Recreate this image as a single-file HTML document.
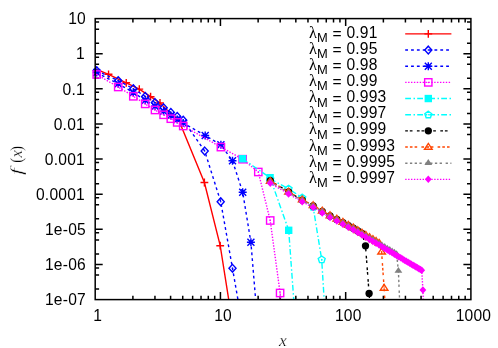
<!DOCTYPE html>
<html><head><meta charset="utf-8"><title>f(x)</title>
<style>html,body{margin:0;padding:0;background:#fff;}svg{display:block;will-change:transform;}text{font-family:"Liberation Sans",sans-serif;fill:#000;}.s{font-family:"Liberation Serif",serif;font-style:italic;}.r{font-family:"Liberation Serif",serif;font-style:normal;}</style></head><body>
<svg width="498" height="348" viewBox="0 0 498 348">
<rect x="0" y="0" width="498" height="348" fill="#fff"/>
<defs><clipPath id="c"><rect x="95.2" y="18.6" width="375.7" height="281.0"/></clipPath></defs>
<g stroke="#000" stroke-width="1.5" fill="none">
<path d="M132.90,299.6v-3.9M132.90,18.6v3.9M154.95,299.6v-3.9M154.95,18.6v3.9M170.60,299.6v-3.9M170.60,18.6v3.9M182.73,299.6v-3.9M182.73,18.6v3.9M192.65,299.6v-3.9M192.65,18.6v3.9M201.03,299.6v-3.9M201.03,18.6v3.9M208.30,299.6v-3.9M208.30,18.6v3.9M214.70,299.6v-3.9M214.70,18.6v3.9M220.43,299.6v-7.5M220.43,18.6v7.5M258.13,299.6v-3.9M258.13,18.6v3.9M280.18,299.6v-3.9M280.18,18.6v3.9M295.83,299.6v-3.9M295.83,18.6v3.9M307.97,299.6v-3.9M307.97,18.6v3.9M317.88,299.6v-3.9M317.88,18.6v3.9M326.27,299.6v-3.9M326.27,18.6v3.9M333.53,299.6v-3.9M333.53,18.6v3.9M339.94,299.6v-3.9M339.94,18.6v3.9M345.67,299.6v-7.5M345.67,18.6v7.5M383.37,299.6v-3.9M383.37,18.6v3.9M405.42,299.6v-3.9M405.42,18.6v3.9M421.06,299.6v-3.9M421.06,18.6v3.9M433.20,299.6v-3.9M433.20,18.6v3.9M443.12,299.6v-3.9M443.12,18.6v3.9M451.50,299.6v-3.9M451.50,18.6v3.9M458.76,299.6v-3.9M458.76,18.6v3.9M465.17,299.6v-3.9M465.17,18.6v3.9M95.2,43.15h3.9M470.9,43.15h-3.9M95.2,29.17h3.9M470.9,29.17h-3.9M95.2,22.00h3.9M470.9,22.00h-3.9M95.2,53.73h7.5M470.9,53.73h-7.5M95.2,78.28h3.9M470.9,78.28h-3.9M95.2,64.30h3.9M470.9,64.30h-3.9M95.2,57.13h3.9M470.9,57.13h-3.9M95.2,88.85h7.5M470.9,88.85h-7.5M95.2,113.40h3.9M470.9,113.40h-3.9M95.2,99.42h3.9M470.9,99.42h-3.9M95.2,92.25h3.9M470.9,92.25h-3.9M95.2,123.97h7.5M470.9,123.97h-7.5M95.2,148.53h3.9M470.9,148.53h-3.9M95.2,134.55h3.9M470.9,134.55h-3.9M95.2,127.38h3.9M470.9,127.38h-3.9M95.2,159.10h7.5M470.9,159.10h-7.5M95.2,183.65h3.9M470.9,183.65h-3.9M95.2,169.67h3.9M470.9,169.67h-3.9M95.2,162.50h3.9M470.9,162.50h-3.9M95.2,194.22h7.5M470.9,194.22h-7.5M95.2,218.78h3.9M470.9,218.78h-3.9M95.2,204.80h3.9M470.9,204.80h-3.9M95.2,197.63h3.9M470.9,197.63h-3.9M95.2,229.35h7.5M470.9,229.35h-7.5M95.2,253.90h3.9M470.9,253.90h-3.9M95.2,239.92h3.9M470.9,239.92h-3.9M95.2,232.75h3.9M470.9,232.75h-3.9M95.2,264.48h7.5M470.9,264.48h-7.5M95.2,289.03h3.9M470.9,289.03h-3.9M95.2,275.05h3.9M470.9,275.05h-3.9M95.2,267.88h3.9M470.9,267.88h-3.9"/>
</g>
<g font-size="15.6" text-anchor="end" letter-spacing="0.2">
<text x="85.9" y="24.05">10</text>
<text x="84.9" y="59.18">1</text>
<text x="84.9" y="94.70">0.1</text>
<text x="84.9" y="130.02">0.01</text>
<text x="84.9" y="164.55">0.001</text>
<text x="84.9" y="199.67">0.0001</text>
<text x="85.9" y="234.80">1e-05</text>
<text x="85.9" y="269.93">1e-06</text>
<text x="85.9" y="305.05">1e-07</text>
</g>
<g font-size="15.6" text-anchor="middle" letter-spacing="0.2">
<text x="97.80" y="320.6">1</text>
<text x="223.03" y="320.6">10</text>
<text x="348.27" y="320.6">100</text>
<text x="473.50" y="320.6">1000</text>
</g>
<text class="s" font-size="17.5" stroke="#fff" stroke-width="0.25" text-anchor="middle" x="283" y="345.8">x</text>
<g transform="translate(21.8,174.7) rotate(-90)">
<text class="s" font-size="16.6" stroke="#fff" stroke-width="0.3" transform="translate(-0.27,0) scale(1.5,1)">f</text>
<text class="r" font-size="17.75" stroke="#fff" stroke-width="0.2" transform="translate(11.98,0) scale(0.8,1)">(</text>
<text class="s" font-size="16.6" stroke="#fff" stroke-width="0.25" x="17.1" y="0">x</text>
<text class="r" font-size="17.75" stroke="#fff" stroke-width="0.2" transform="translate(23.95,0) scale(0.8,1)">)</text>
</g>
<path clip-path="url(#c)" d="M93.00,68.00L108.54,74.30L126.24,82.80L139.30,89.10L150.60,96.70L160.00,103.00L166.60,109.60L173.20,115.10L178.90,120.40L204.40,182.50L220.20,245.70L232.40,322.80" stroke="#ff0000" stroke-width="1.4" fill="none"/>
<path d="M104.64,74.30H112.44M108.54,70.40V78.20" stroke="#ff0000" stroke-width="1.4" fill="none"/>
<path d="M122.34,82.80H130.14M126.24,78.90V86.70" stroke="#ff0000" stroke-width="1.4" fill="none"/>
<path d="M135.40,89.10H143.20M139.30,85.20V93.00" stroke="#ff0000" stroke-width="1.4" fill="none"/>
<path d="M146.70,96.70H154.50M150.60,92.80V100.60" stroke="#ff0000" stroke-width="1.4" fill="none"/>
<path d="M156.10,103.00H163.90M160.00,99.10V106.90" stroke="#ff0000" stroke-width="1.4" fill="none"/>
<path d="M200.50,182.50H208.30M204.40,178.60V186.40" stroke="#ff0000" stroke-width="1.4" fill="none"/>
<path d="M216.30,245.70H224.10M220.20,241.80V249.60" stroke="#ff0000" stroke-width="1.4" fill="none"/>
<path clip-path="url(#c)" d="M96.70,70.70L118.20,80.60L133.30,88.70L145.20,96.40L155.00,102.50L163.60,107.80L170.80,112.40L177.20,116.40L183.20,120.20L204.70,151.00L220.70,201.70L232.50,268.30L239.40,308.00" stroke="#0000ff" stroke-width="1.4" fill="none" stroke-dasharray="2.8 3.05"/>
<path d="M96.70,66.80L100.25,70.70L96.70,74.60L93.15,70.70Z" stroke="#0000ff" stroke-width="1.4" fill="none"/><circle cx="96.70" cy="70.70" r="0.75" fill="#0000ff"/>
<path d="M118.20,76.70L121.75,80.60L118.20,84.50L114.65,80.60Z" stroke="#0000ff" stroke-width="1.4" fill="none"/><circle cx="118.20" cy="80.60" r="0.75" fill="#0000ff"/>
<path d="M133.30,84.80L136.85,88.70L133.30,92.60L129.75,88.70Z" stroke="#0000ff" stroke-width="1.4" fill="none"/><circle cx="133.30" cy="88.70" r="0.75" fill="#0000ff"/>
<path d="M145.20,92.50L148.75,96.40L145.20,100.30L141.65,96.40Z" stroke="#0000ff" stroke-width="1.4" fill="none"/><circle cx="145.20" cy="96.40" r="0.75" fill="#0000ff"/>
<path d="M155.00,98.60L158.55,102.50L155.00,106.40L151.45,102.50Z" stroke="#0000ff" stroke-width="1.4" fill="none"/><circle cx="155.00" cy="102.50" r="0.75" fill="#0000ff"/>
<path d="M163.60,103.90L167.15,107.80L163.60,111.70L160.05,107.80Z" stroke="#0000ff" stroke-width="1.4" fill="none"/><circle cx="163.60" cy="107.80" r="0.75" fill="#0000ff"/>
<path d="M170.80,108.50L174.35,112.40L170.80,116.30L167.25,112.40Z" stroke="#0000ff" stroke-width="1.4" fill="none"/><circle cx="170.80" cy="112.40" r="0.75" fill="#0000ff"/>
<path d="M177.20,112.50L180.75,116.40L177.20,120.30L173.65,116.40Z" stroke="#0000ff" stroke-width="1.4" fill="none"/><circle cx="177.20" cy="116.40" r="0.75" fill="#0000ff"/>
<path d="M183.20,116.30L186.75,120.20L183.20,124.10L179.65,120.20Z" stroke="#0000ff" stroke-width="1.4" fill="none"/><circle cx="183.20" cy="120.20" r="0.75" fill="#0000ff"/>
<path d="M204.70,147.10L208.25,151.00L204.70,154.90L201.15,151.00Z" stroke="#0000ff" stroke-width="1.4" fill="none"/><circle cx="204.70" cy="151.00" r="0.75" fill="#0000ff"/>
<path d="M220.70,197.80L224.25,201.70L220.70,205.60L217.15,201.70Z" stroke="#0000ff" stroke-width="1.4" fill="none"/><circle cx="220.70" cy="201.70" r="0.75" fill="#0000ff"/>
<path d="M232.50,264.40L236.05,268.30L232.50,272.20L228.95,268.30Z" stroke="#0000ff" stroke-width="1.4" fill="none"/><circle cx="232.50" cy="268.30" r="0.75" fill="#0000ff"/>
<path clip-path="url(#c)" d="M96.70,72.60L118.20,83.80L133.30,92.50L145.20,100.15L155.00,106.25L163.60,111.30L170.80,115.55L177.20,119.40L183.20,123.10L205.20,135.50L220.90,144.80L232.50,160.80L242.70,192.20L250.90,242.30L257.00,316.00" stroke="#0000ff" stroke-width="1.4" fill="none" stroke-dasharray="2.8 3.05"/>
<path d="M92.70,72.60H100.70M96.70,68.60V76.60M93.20,69.10L100.20,76.10M93.20,76.10L100.20,69.10" stroke="#0000ff" stroke-width="1.4" fill="none"/>
<path d="M114.20,83.80H122.20M118.20,79.80V87.80M114.70,80.30L121.70,87.30M114.70,87.30L121.70,80.30" stroke="#0000ff" stroke-width="1.4" fill="none"/>
<path d="M129.30,92.50H137.30M133.30,88.50V96.50M129.80,89.00L136.80,96.00M129.80,96.00L136.80,89.00" stroke="#0000ff" stroke-width="1.4" fill="none"/>
<path d="M141.20,100.15H149.20M145.20,96.15V104.15M141.70,96.65L148.70,103.65M141.70,103.65L148.70,96.65" stroke="#0000ff" stroke-width="1.4" fill="none"/>
<path d="M151.00,106.25H159.00M155.00,102.25V110.25M151.50,102.75L158.50,109.75M151.50,109.75L158.50,102.75" stroke="#0000ff" stroke-width="1.4" fill="none"/>
<path d="M159.60,111.30H167.60M163.60,107.30V115.30M160.10,107.80L167.10,114.80M160.10,114.80L167.10,107.80" stroke="#0000ff" stroke-width="1.4" fill="none"/>
<path d="M166.80,115.55H174.80M170.80,111.55V119.55M167.30,112.05L174.30,119.05M167.30,119.05L174.30,112.05" stroke="#0000ff" stroke-width="1.4" fill="none"/>
<path d="M173.20,119.40H181.20M177.20,115.40V123.40M173.70,115.90L180.70,122.90M173.70,122.90L180.70,115.90" stroke="#0000ff" stroke-width="1.4" fill="none"/>
<path d="M179.20,123.10H187.20M183.20,119.10V127.10M179.70,119.60L186.70,126.60M179.70,126.60L186.70,119.60" stroke="#0000ff" stroke-width="1.4" fill="none"/>
<path d="M201.20,135.50H209.20M205.20,131.50V139.50M201.70,132.00L208.70,139.00M201.70,139.00L208.70,132.00" stroke="#0000ff" stroke-width="1.4" fill="none"/>
<path d="M216.90,144.80H224.90M220.90,140.80V148.80M217.40,141.30L224.40,148.30M217.40,148.30L224.40,141.30" stroke="#0000ff" stroke-width="1.4" fill="none"/>
<path d="M228.50,160.80H236.50M232.50,156.80V164.80M229.00,157.30L236.00,164.30M229.00,164.30L236.00,157.30" stroke="#0000ff" stroke-width="1.4" fill="none"/>
<path d="M238.70,192.20H246.70M242.70,188.20V196.20M239.20,188.70L246.20,195.70M239.20,195.70L246.20,188.70" stroke="#0000ff" stroke-width="1.4" fill="none"/>
<path d="M246.90,242.30H254.90M250.90,238.30V246.30M247.40,238.80L254.40,245.80M247.40,245.80L254.40,238.80" stroke="#0000ff" stroke-width="1.4" fill="none"/>
<path clip-path="url(#c)" d="M96.70,74.50L118.20,87.00L133.30,96.30L145.20,103.90L155.00,110.00L163.60,114.80L170.80,118.70L177.20,122.40L183.20,126.00L220.90,147.10L242.60,159.20L258.30,172.00L270.20,220.50L280.10,293.00L282.00,310.00" stroke="#ff00ff" stroke-width="1.4" fill="none" stroke-dasharray="1.4 1.5"/>
<rect x="93.05" y="70.85" width="7.30" height="7.30" stroke="#ff00ff" stroke-width="1.4" fill="none"/><circle cx="96.70" cy="74.50" r="0.75" fill="#ff00ff"/>
<rect x="114.55" y="83.35" width="7.30" height="7.30" stroke="#ff00ff" stroke-width="1.4" fill="none"/><circle cx="118.20" cy="87.00" r="0.75" fill="#ff00ff"/>
<rect x="129.65" y="92.65" width="7.30" height="7.30" stroke="#ff00ff" stroke-width="1.4" fill="none"/><circle cx="133.30" cy="96.30" r="0.75" fill="#ff00ff"/>
<rect x="141.55" y="100.25" width="7.30" height="7.30" stroke="#ff00ff" stroke-width="1.4" fill="none"/><circle cx="145.20" cy="103.90" r="0.75" fill="#ff00ff"/>
<rect x="151.35" y="106.35" width="7.30" height="7.30" stroke="#ff00ff" stroke-width="1.4" fill="none"/><circle cx="155.00" cy="110.00" r="0.75" fill="#ff00ff"/>
<rect x="159.95" y="111.15" width="7.30" height="7.30" stroke="#ff00ff" stroke-width="1.4" fill="none"/><circle cx="163.60" cy="114.80" r="0.75" fill="#ff00ff"/>
<rect x="167.15" y="115.05" width="7.30" height="7.30" stroke="#ff00ff" stroke-width="1.4" fill="none"/><circle cx="170.80" cy="118.70" r="0.75" fill="#ff00ff"/>
<rect x="173.55" y="118.75" width="7.30" height="7.30" stroke="#ff00ff" stroke-width="1.4" fill="none"/><circle cx="177.20" cy="122.40" r="0.75" fill="#ff00ff"/>
<rect x="179.55" y="122.35" width="7.30" height="7.30" stroke="#ff00ff" stroke-width="1.4" fill="none"/><circle cx="183.20" cy="126.00" r="0.75" fill="#ff00ff"/>
<rect x="217.25" y="143.45" width="7.30" height="7.30" stroke="#ff00ff" stroke-width="1.4" fill="none"/><circle cx="220.90" cy="147.10" r="0.75" fill="#ff00ff"/>
<rect x="238.95" y="155.55" width="7.30" height="7.30" stroke="#ff00ff" stroke-width="1.4" fill="none"/><circle cx="242.60" cy="159.20" r="0.75" fill="#ff00ff"/>
<rect x="254.65" y="168.35" width="7.30" height="7.30" stroke="#ff00ff" stroke-width="1.4" fill="none"/><circle cx="258.30" cy="172.00" r="0.75" fill="#ff00ff"/>
<rect x="266.55" y="216.85" width="7.30" height="7.30" stroke="#ff00ff" stroke-width="1.4" fill="none"/><circle cx="270.20" cy="220.50" r="0.75" fill="#ff00ff"/>
<rect x="276.45" y="289.35" width="7.30" height="7.30" stroke="#ff00ff" stroke-width="1.4" fill="none"/><circle cx="280.10" cy="293.00" r="0.75" fill="#ff00ff"/>
<path clip-path="url(#c)" d="M242.50,158.75L270.10,177.70L288.70,230.30L294.50,310.00" stroke="#00ffff" stroke-width="1.4" fill="none" stroke-dasharray="5.8 2.5 1.5 2.2"/>
<rect x="238.80" y="155.05" width="7.40" height="7.40" fill="#00ffff"/>
<rect x="266.40" y="174.00" width="7.40" height="7.40" fill="#00ffff"/>
<rect x="285.00" y="226.60" width="7.40" height="7.40" fill="#00ffff"/>
<path clip-path="url(#c)" d="M270.27,179.00L288.57,188.80L302.24,197.70L313.15,207.00L321.70,259.50L324.80,310.00" stroke="#00ffff" stroke-width="1.4" fill="none" stroke-dasharray="5.8 2.5 1.5 2.2"/>
<polygon points="270.27,175.50 273.74,178.02 272.41,182.10 268.12,182.10 266.80,178.02" stroke="#00ffff" stroke-width="1.4" fill="none"/><circle cx="270.27" cy="179.00" r="0.75" fill="#00ffff"/>
<polygon points="288.57,185.30 292.04,187.82 290.71,191.90 286.42,191.90 285.10,187.82" stroke="#00ffff" stroke-width="1.4" fill="none"/><circle cx="288.57" cy="188.80" r="0.75" fill="#00ffff"/>
<polygon points="302.24,194.20 305.71,196.72 304.38,200.80 300.09,200.80 298.77,196.72" stroke="#00ffff" stroke-width="1.4" fill="none"/><circle cx="302.24" cy="197.70" r="0.75" fill="#00ffff"/>
<polygon points="313.15,203.50 316.62,206.02 315.30,210.10 311.01,210.10 309.68,206.02" stroke="#00ffff" stroke-width="1.4" fill="none"/><circle cx="313.15" cy="207.00" r="0.75" fill="#00ffff"/>
<polygon points="321.70,256.00 325.17,258.52 323.85,262.60 319.55,262.60 318.23,258.52" stroke="#00ffff" stroke-width="1.4" fill="none"/><circle cx="321.70" cy="259.50" r="0.75" fill="#00ffff"/>
<path clip-path="url(#c)" d="M270.27,180.70L288.57,191.80L302.24,200.10L313.15,205.90L322.24,211.30L330.02,216.00L336.83,219.40L342.88,222.60L348.32,225.60L353.27,228.20L357.80,230.88L361.99,233.36L365.50,245.80L369.10,293.40L370.20,310.00" stroke="#000000" stroke-width="1.4" fill="none" stroke-dasharray="2.7 1.9 2.7 4.4"/>
<circle cx="270.27" cy="180.70" r="3.65" fill="#000000"/>
<circle cx="288.57" cy="191.80" r="3.65" fill="#000000"/>
<circle cx="302.24" cy="200.10" r="3.65" fill="#000000"/>
<circle cx="313.15" cy="205.90" r="3.65" fill="#000000"/>
<circle cx="322.24" cy="211.30" r="3.65" fill="#000000"/>
<circle cx="330.02" cy="216.00" r="3.65" fill="#000000"/>
<circle cx="336.83" cy="219.40" r="3.65" fill="#000000"/>
<circle cx="342.88" cy="222.60" r="3.65" fill="#000000"/>
<circle cx="348.32" cy="225.60" r="3.65" fill="#000000"/>
<circle cx="353.27" cy="228.20" r="3.65" fill="#000000"/>
<circle cx="357.80" cy="230.88" r="3.65" fill="#000000"/>
<circle cx="361.99" cy="233.36" r="3.65" fill="#000000"/>
<circle cx="365.50" cy="245.80" r="3.65" fill="#000000"/>
<circle cx="369.10" cy="293.40" r="3.65" fill="#000000"/>
<path clip-path="url(#c)" d="M270.27,181.10L288.57,191.80L302.24,199.70L313.15,205.40L322.24,210.80L330.02,215.50L336.83,218.90L342.88,222.10L348.32,225.10L353.27,227.70L357.80,230.38L361.99,232.86L365.88,235.16L369.50,237.31L372.90,239.32L376.10,241.22L379.13,243.01L381.60,251.80L384.10,288.00L385.50,310.00" stroke="#ff4500" stroke-width="1.4" fill="none" stroke-dasharray="2.6 2.1 2.6 2.1 2.6 4.2"/>
<path d="M270.27,177.50L274.07,183.30L266.47,183.30Z" stroke="#ff4500" stroke-width="1.4" fill="none"/><circle cx="270.27" cy="181.10" r="0.75" fill="#ff4500"/>
<path d="M288.57,188.20L292.37,194.00L284.77,194.00Z" stroke="#ff4500" stroke-width="1.4" fill="none"/><circle cx="288.57" cy="191.80" r="0.75" fill="#ff4500"/>
<path d="M302.24,196.10L306.04,201.90L298.44,201.90Z" stroke="#ff4500" stroke-width="1.4" fill="none"/><circle cx="302.24" cy="199.70" r="0.75" fill="#ff4500"/>
<path d="M313.15,201.80L316.95,207.60L309.35,207.60Z" stroke="#ff4500" stroke-width="1.4" fill="none"/><circle cx="313.15" cy="205.40" r="0.75" fill="#ff4500"/>
<path d="M322.24,207.20L326.04,213.00L318.44,213.00Z" stroke="#ff4500" stroke-width="1.4" fill="none"/><circle cx="322.24" cy="210.80" r="0.75" fill="#ff4500"/>
<path d="M330.02,211.90L333.82,217.70L326.22,217.70Z" stroke="#ff4500" stroke-width="1.4" fill="none"/><circle cx="330.02" cy="215.50" r="0.75" fill="#ff4500"/>
<path d="M336.83,215.30L340.63,221.10L333.03,221.10Z" stroke="#ff4500" stroke-width="1.4" fill="none"/><circle cx="336.83" cy="218.90" r="0.75" fill="#ff4500"/>
<path d="M342.88,218.50L346.68,224.30L339.08,224.30Z" stroke="#ff4500" stroke-width="1.4" fill="none"/><circle cx="342.88" cy="222.10" r="0.75" fill="#ff4500"/>
<path d="M348.32,221.50L352.12,227.30L344.52,227.30Z" stroke="#ff4500" stroke-width="1.4" fill="none"/><circle cx="348.32" cy="225.10" r="0.75" fill="#ff4500"/>
<path d="M353.27,224.10L357.07,229.90L349.47,229.90Z" stroke="#ff4500" stroke-width="1.4" fill="none"/><circle cx="353.27" cy="227.70" r="0.75" fill="#ff4500"/>
<path d="M357.80,226.78L361.60,232.58L354.00,232.58Z" stroke="#ff4500" stroke-width="1.4" fill="none"/><circle cx="357.80" cy="230.38" r="0.75" fill="#ff4500"/>
<path d="M361.99,229.26L365.79,235.06L358.19,235.06Z" stroke="#ff4500" stroke-width="1.4" fill="none"/><circle cx="361.99" cy="232.86" r="0.75" fill="#ff4500"/>
<path d="M365.88,231.56L369.68,237.36L362.08,237.36Z" stroke="#ff4500" stroke-width="1.4" fill="none"/><circle cx="365.88" cy="235.16" r="0.75" fill="#ff4500"/>
<path d="M369.50,233.71L373.30,239.51L365.70,239.51Z" stroke="#ff4500" stroke-width="1.4" fill="none"/><circle cx="369.50" cy="237.31" r="0.75" fill="#ff4500"/>
<path d="M372.90,235.72L376.70,241.52L369.10,241.52Z" stroke="#ff4500" stroke-width="1.4" fill="none"/><circle cx="372.90" cy="239.32" r="0.75" fill="#ff4500"/>
<path d="M376.10,237.62L379.90,243.42L372.30,243.42Z" stroke="#ff4500" stroke-width="1.4" fill="none"/><circle cx="376.10" cy="241.22" r="0.75" fill="#ff4500"/>
<path d="M379.13,239.41L382.93,245.21L375.33,245.21Z" stroke="#ff4500" stroke-width="1.4" fill="none"/><circle cx="379.13" cy="243.01" r="0.75" fill="#ff4500"/>
<path d="M381.60,248.20L385.40,254.00L377.80,254.00Z" stroke="#ff4500" stroke-width="1.4" fill="none"/><circle cx="381.60" cy="251.80" r="0.75" fill="#ff4500"/>
<path d="M384.10,284.40L387.90,290.20L380.30,290.20Z" stroke="#ff4500" stroke-width="1.4" fill="none"/><circle cx="384.10" cy="288.00" r="0.75" fill="#ff4500"/>
<path clip-path="url(#c)" d="M270.27,182.00L288.57,192.70L302.24,200.60L313.15,206.30L322.24,211.70L330.02,216.40L336.83,219.80L342.88,223.00L348.32,226.00L353.27,228.60L357.80,231.28L361.99,233.76L365.88,236.06L369.50,238.21L372.90,240.22L376.10,242.12L379.13,243.91L381.99,245.60L384.71,247.21L387.30,248.75L389.77,250.21L392.14,251.61L394.40,252.95L396.58,254.24L398.40,271.00L400.00,310.00" stroke="#808080" stroke-width="1.4" fill="none" stroke-dasharray="2.3 2.44 2.3 2.44 2.3 2.44 2.3 3.7"/>
<path d="M270.27,177.90L274.17,183.80L266.37,183.80Z" fill="#808080"/>
<path d="M288.57,188.60L292.47,194.50L284.67,194.50Z" fill="#808080"/>
<path d="M302.24,196.50L306.14,202.40L298.34,202.40Z" fill="#808080"/>
<path d="M313.15,202.20L317.05,208.10L309.25,208.10Z" fill="#808080"/>
<path d="M322.24,207.60L326.14,213.50L318.34,213.50Z" fill="#808080"/>
<path d="M330.02,212.30L333.92,218.20L326.12,218.20Z" fill="#808080"/>
<path d="M336.83,215.70L340.73,221.60L332.93,221.60Z" fill="#808080"/>
<path d="M342.88,218.90L346.78,224.80L338.98,224.80Z" fill="#808080"/>
<path d="M348.32,221.90L352.22,227.80L344.42,227.80Z" fill="#808080"/>
<path d="M353.27,224.50L357.17,230.40L349.37,230.40Z" fill="#808080"/>
<path d="M357.80,227.18L361.70,233.08L353.90,233.08Z" fill="#808080"/>
<path d="M361.99,229.66L365.89,235.56L358.09,235.56Z" fill="#808080"/>
<path d="M365.88,231.96L369.78,237.86L361.98,237.86Z" fill="#808080"/>
<path d="M369.50,234.11L373.40,240.01L365.60,240.01Z" fill="#808080"/>
<path d="M372.90,236.12L376.80,242.02L369.00,242.02Z" fill="#808080"/>
<path d="M376.10,238.02L380.00,243.92L372.20,243.92Z" fill="#808080"/>
<path d="M379.13,239.81L383.03,245.71L375.23,245.71Z" fill="#808080"/>
<path d="M381.99,241.50L385.89,247.40L378.09,247.40Z" fill="#808080"/>
<path d="M384.71,243.11L388.61,249.01L380.81,249.01Z" fill="#808080"/>
<path d="M387.30,244.65L391.20,250.55L383.40,250.55Z" fill="#808080"/>
<path d="M389.77,246.11L393.67,252.01L385.87,252.01Z" fill="#808080"/>
<path d="M392.14,247.51L396.04,253.41L388.24,253.41Z" fill="#808080"/>
<path d="M394.40,248.85L398.30,254.75L390.50,254.75Z" fill="#808080"/>
<path d="M396.58,250.14L400.48,256.04L392.68,256.04Z" fill="#808080"/>
<path d="M398.40,266.90L402.30,272.80L394.50,272.80Z" fill="#808080"/>
<path clip-path="url(#c)" d="M270.27,183.20L288.57,193.90L302.24,201.80L313.15,207.50L322.24,212.90L330.02,217.60L336.83,221.00L342.88,224.20L348.32,227.20L353.27,229.80L357.80,232.48L361.99,234.96L365.88,237.26L369.50,239.41L372.90,241.42L376.10,243.32L379.13,245.11L381.99,246.80L384.71,248.41L387.30,249.95L389.77,251.41L392.14,252.81L394.40,254.15L396.58,255.44L398.67,256.68L400.69,257.87L402.63,259.02L404.50,260.13L406.32,261.21L408.07,262.24L409.77,263.25L411.42,264.23L413.02,265.17L414.57,266.09L416.08,266.99L417.55,267.86L418.99,268.70L420.38,269.53L421.74,270.34L422.90,290.10L423.60,310.00" stroke="#ff00ff" stroke-width="1.4" fill="none" stroke-dasharray="1.4 1.5"/>
<path d="M270.27,179.45L273.67,183.20L270.27,186.95L266.87,183.20Z" fill="#ff00ff"/>
<path d="M288.57,190.15L291.97,193.90L288.57,197.65L285.17,193.90Z" fill="#ff00ff"/>
<path d="M302.24,198.05L305.64,201.80L302.24,205.55L298.84,201.80Z" fill="#ff00ff"/>
<path d="M313.15,203.75L316.55,207.50L313.15,211.25L309.75,207.50Z" fill="#ff00ff"/>
<path d="M322.24,209.15L325.64,212.90L322.24,216.65L318.84,212.90Z" fill="#ff00ff"/>
<path d="M330.02,213.85L333.42,217.60L330.02,221.35L326.62,217.60Z" fill="#ff00ff"/>
<path d="M336.83,217.25L340.23,221.00L336.83,224.75L333.43,221.00Z" fill="#ff00ff"/>
<path d="M342.88,220.45L346.28,224.20L342.88,227.95L339.48,224.20Z" fill="#ff00ff"/>
<path d="M348.32,223.45L351.72,227.20L348.32,230.95L344.92,227.20Z" fill="#ff00ff"/>
<path d="M353.27,226.05L356.67,229.80L353.27,233.55L349.87,229.80Z" fill="#ff00ff"/>
<path d="M357.80,228.73L361.20,232.48L357.80,236.23L354.40,232.48Z" fill="#ff00ff"/>
<path d="M361.99,231.21L365.39,234.96L361.99,238.71L358.59,234.96Z" fill="#ff00ff"/>
<path d="M365.88,233.51L369.28,237.26L365.88,241.01L362.48,237.26Z" fill="#ff00ff"/>
<path d="M369.50,235.66L372.90,239.41L369.50,243.16L366.10,239.41Z" fill="#ff00ff"/>
<path d="M372.90,237.67L376.30,241.42L372.90,245.17L369.50,241.42Z" fill="#ff00ff"/>
<path d="M376.10,239.57L379.50,243.32L376.10,247.07L372.70,243.32Z" fill="#ff00ff"/>
<path d="M379.13,241.36L382.53,245.11L379.13,248.86L375.73,245.11Z" fill="#ff00ff"/>
<path d="M381.99,243.05L385.39,246.80L381.99,250.55L378.59,246.80Z" fill="#ff00ff"/>
<path d="M384.71,244.66L388.11,248.41L384.71,252.16L381.31,248.41Z" fill="#ff00ff"/>
<path d="M387.30,246.20L390.70,249.95L387.30,253.70L383.90,249.95Z" fill="#ff00ff"/>
<path d="M389.77,247.66L393.17,251.41L389.77,255.16L386.37,251.41Z" fill="#ff00ff"/>
<path d="M392.14,249.06L395.54,252.81L392.14,256.56L388.74,252.81Z" fill="#ff00ff"/>
<path d="M394.40,250.40L397.80,254.15L394.40,257.90L391.00,254.15Z" fill="#ff00ff"/>
<path d="M396.58,251.69L399.98,255.44L396.58,259.19L393.18,255.44Z" fill="#ff00ff"/>
<path d="M398.67,252.93L402.07,256.68L398.67,260.43L395.27,256.68Z" fill="#ff00ff"/>
<path d="M400.69,254.12L404.09,257.87L400.69,261.62L397.29,257.87Z" fill="#ff00ff"/>
<path d="M402.63,255.27L406.03,259.02L402.63,262.77L399.23,259.02Z" fill="#ff00ff"/>
<path d="M404.50,256.38L407.90,260.13L404.50,263.88L401.10,260.13Z" fill="#ff00ff"/>
<path d="M406.32,257.46L409.72,261.21L406.32,264.96L402.92,261.21Z" fill="#ff00ff"/>
<path d="M408.07,258.49L411.47,262.24L408.07,265.99L404.67,262.24Z" fill="#ff00ff"/>
<path d="M409.77,259.50L413.17,263.25L409.77,267.00L406.37,263.25Z" fill="#ff00ff"/>
<path d="M411.42,260.48L414.82,264.23L411.42,267.98L408.02,264.23Z" fill="#ff00ff"/>
<path d="M413.02,261.42L416.42,265.17L413.02,268.92L409.62,265.17Z" fill="#ff00ff"/>
<path d="M414.57,262.34L417.97,266.09L414.57,269.84L411.17,266.09Z" fill="#ff00ff"/>
<path d="M416.08,263.24L419.48,266.99L416.08,270.74L412.68,266.99Z" fill="#ff00ff"/>
<path d="M417.55,264.11L420.95,267.86L417.55,271.61L414.15,267.86Z" fill="#ff00ff"/>
<path d="M418.99,264.95L422.39,268.70L418.99,272.45L415.59,268.70Z" fill="#ff00ff"/>
<path d="M420.38,265.78L423.78,269.53L420.38,273.28L416.98,269.53Z" fill="#ff00ff"/>
<path d="M421.74,266.59L425.14,270.34L421.74,274.09L418.34,270.34Z" fill="#ff00ff"/>
<path d="M422.90,286.35L426.30,290.10L422.90,293.85L419.50,290.10Z" fill="#ff00ff"/>
<rect x="95.2" y="18.6" width="375.70" height="281.00" stroke="#000" stroke-width="1.5" fill="none"/>
<path d="M405.2,33.90H451.4" stroke="#ff0000" stroke-width="1.4" fill="none"/>
<path d="M424.40,33.90H432.20M428.30,30.00V37.80" stroke="#ff0000" stroke-width="1.4" fill="none"/>
<text font-size="15.6" y="37.50"><tspan x="309.0" class="r" font-size="16.2">λ</tspan><tspan font-size="12.9" x="317.0" dy="4.5">M</tspan><tspan x="332.5" dy="-3.0">=</tspan><tspan x="346.55" dy="-1.5" letter-spacing="0.15">0.91</tspan></text>
<path d="M405.2,50.06H451.4" stroke="#0000ff" stroke-width="1.4" fill="none" stroke-dasharray="2.8 3.05"/>
<path d="M428.30,46.16L431.85,50.06L428.30,53.96L424.75,50.06Z" stroke="#0000ff" stroke-width="1.4" fill="none"/><circle cx="428.30" cy="50.06" r="0.75" fill="#0000ff"/>
<text font-size="15.6" y="53.66"><tspan x="309.0" class="r" font-size="16.2">λ</tspan><tspan font-size="12.9" x="317.0" dy="4.5">M</tspan><tspan x="332.5" dy="-3.0">=</tspan><tspan x="346.55" dy="-1.5" letter-spacing="0.15">0.95</tspan></text>
<path d="M405.2,66.22H451.4" stroke="#0000ff" stroke-width="1.4" fill="none" stroke-dasharray="2.8 3.05"/>
<path d="M424.30,66.22H432.30M428.30,62.22V70.22M424.80,62.72L431.80,69.72M424.80,69.72L431.80,62.72" stroke="#0000ff" stroke-width="1.4" fill="none"/>
<text font-size="15.6" y="69.82"><tspan x="309.0" class="r" font-size="16.2">λ</tspan><tspan font-size="12.9" x="317.0" dy="4.5">M</tspan><tspan x="332.5" dy="-3.0">=</tspan><tspan x="346.55" dy="-1.5" letter-spacing="0.15">0.98</tspan></text>
<path d="M405.2,82.38H451.4" stroke="#ff00ff" stroke-width="1.4" fill="none" stroke-dasharray="1.4 1.5"/>
<rect x="424.65" y="78.73" width="7.30" height="7.30" stroke="#ff00ff" stroke-width="1.4" fill="none"/><circle cx="428.30" cy="82.38" r="0.75" fill="#ff00ff"/>
<text font-size="15.6" y="85.98"><tspan x="309.0" class="r" font-size="16.2">λ</tspan><tspan font-size="12.9" x="317.0" dy="4.5">M</tspan><tspan x="332.5" dy="-3.0">=</tspan><tspan x="346.55" dy="-1.5" letter-spacing="0.15">0.99</tspan></text>
<path d="M405.2,98.54H451.4" stroke="#00ffff" stroke-width="1.4" fill="none" stroke-dasharray="5.8 2.5 1.5 2.2"/>
<rect x="424.60" y="94.84" width="7.40" height="7.40" fill="#00ffff"/>
<text font-size="15.6" y="102.14"><tspan x="309.0" class="r" font-size="16.2">λ</tspan><tspan font-size="12.9" x="317.0" dy="4.5">M</tspan><tspan x="332.5" dy="-3.0">=</tspan><tspan x="346.55" dy="-1.5" letter-spacing="0.15">0.993</tspan></text>
<path d="M405.2,114.70H451.4" stroke="#00ffff" stroke-width="1.4" fill="none" stroke-dasharray="5.8 2.5 1.5 2.2"/>
<polygon points="428.30,111.20 431.77,113.72 430.45,117.80 426.15,117.80 424.83,113.72" stroke="#00ffff" stroke-width="1.4" fill="none"/><circle cx="428.30" cy="114.70" r="0.75" fill="#00ffff"/>
<text font-size="15.6" y="118.30"><tspan x="309.0" class="r" font-size="16.2">λ</tspan><tspan font-size="12.9" x="317.0" dy="4.5">M</tspan><tspan x="332.5" dy="-3.0">=</tspan><tspan x="346.55" dy="-1.5" letter-spacing="0.15">0.997</tspan></text>
<path d="M405.2,130.86H451.4" stroke="#000000" stroke-width="1.4" fill="none" stroke-dasharray="2.7 1.9 2.7 4.4"/>
<circle cx="428.30" cy="130.86" r="3.65" fill="#000000"/>
<text font-size="15.6" y="134.46"><tspan x="309.0" class="r" font-size="16.2">λ</tspan><tspan font-size="12.9" x="317.0" dy="4.5">M</tspan><tspan x="332.5" dy="-3.0">=</tspan><tspan x="346.55" dy="-1.5" letter-spacing="0.15">0.999</tspan></text>
<path d="M405.2,147.02H451.4" stroke="#ff4500" stroke-width="1.4" fill="none" stroke-dasharray="2.6 2.1 2.6 2.1 2.6 4.2"/>
<path d="M428.30,143.42L432.10,149.22L424.50,149.22Z" stroke="#ff4500" stroke-width="1.4" fill="none"/><circle cx="428.30" cy="147.02" r="0.75" fill="#ff4500"/>
<text font-size="15.6" y="150.62"><tspan x="309.0" class="r" font-size="16.2">λ</tspan><tspan font-size="12.9" x="317.0" dy="4.5">M</tspan><tspan x="332.5" dy="-3.0">=</tspan><tspan x="346.55" dy="-1.5" letter-spacing="0.15">0.9993</tspan></text>
<path d="M405.2,163.18H451.4" stroke="#808080" stroke-width="1.4" fill="none" stroke-dasharray="2.3 2.44 2.3 2.44 2.3 2.44 2.3 3.7"/>
<path d="M428.30,159.08L432.20,164.98L424.40,164.98Z" fill="#808080"/>
<text font-size="15.6" y="166.78"><tspan x="309.0" class="r" font-size="16.2">λ</tspan><tspan font-size="12.9" x="317.0" dy="4.5">M</tspan><tspan x="332.5" dy="-3.0">=</tspan><tspan x="346.55" dy="-1.5" letter-spacing="0.15">0.9995</tspan></text>
<path d="M405.2,179.34H451.4" stroke="#ff00ff" stroke-width="1.4" fill="none" stroke-dasharray="1.4 1.5"/>
<path d="M428.30,175.59L431.70,179.34L428.30,183.09L424.90,179.34Z" fill="#ff00ff"/>
<text font-size="15.6" y="182.94"><tspan x="309.0" class="r" font-size="16.2">λ</tspan><tspan font-size="12.9" x="317.0" dy="4.5">M</tspan><tspan x="332.5" dy="-3.0">=</tspan><tspan x="346.55" dy="-1.5" letter-spacing="0.15">0.9997</tspan></text>
</svg></body></html>
